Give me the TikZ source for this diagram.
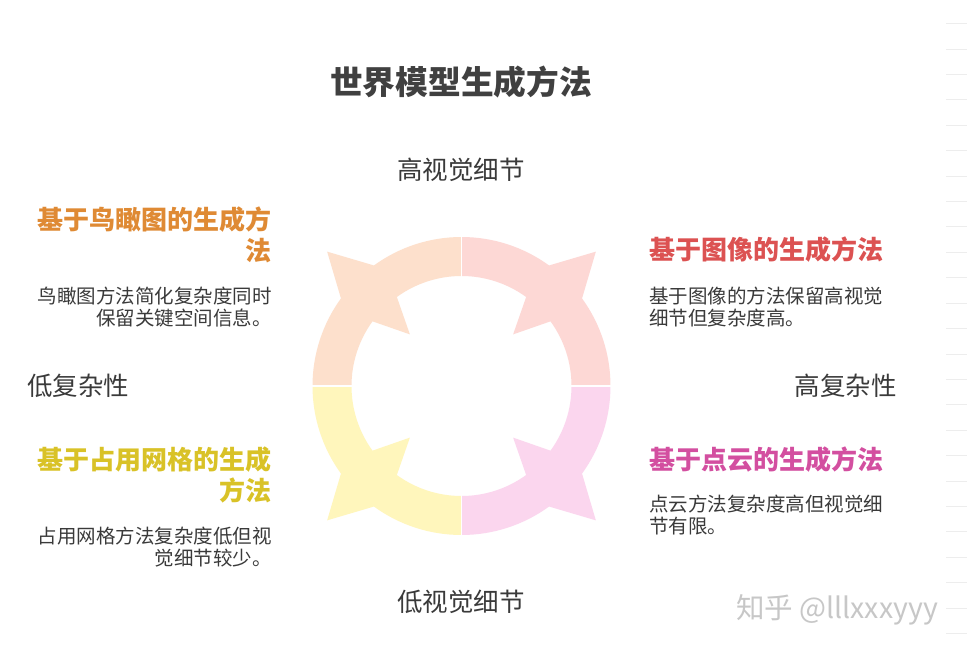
\documentclass[tikz,border=0pt]{standalone}
\usepackage{fontspec}
\setmainfont{Noto Sans CJK SC}
\usepackage{tikz}
\definecolor{birdfill}{HTML}{FDE0CC}
\definecolor{imagefill}{HTML}{FDD8D5}
\definecolor{occfill}{HTML}{FFF6BC}
\definecolor{cloudfill}{HTML}{FBD6EE}
\definecolor{birdtxt}{HTML}{DF8A34}
\definecolor{imagetxt}{HTML}{DC5252}
\definecolor{occtxt}{HTML}{D9C227}
\definecolor{cloudtxt}{HTML}{D34FA0}
\definecolor{bodytxt}{HTML}{3A3A3A}
\tikzset{
  heading/.style={inner sep=0pt, font=\bfseries\fontsize{26}{31}\selectfont},
  note/.style={inner sep=0pt, text=bodytxt, font=\fontsize{19.5}{22}\selectfont},
  axislabel/.style={inner sep=0pt, text=bodytxt, font=\fontsize{25.5}{30}\selectfont}
}
\newcommand{\wmquadrant}[2] {\fill [#2] (#1:110pt) -- (#1:149pt) arc[start angle=#1, end angle={#1+36}, radius=149pt] -- ({#1+45}:190pt) -- ({#1+54}:149pt) arc[start angle={#1+54}, end angle={#1+90}, radius=149pt] -- ({#1+90}:110pt) arc[start angle={#1+90}, end angle={#1+54}, radius=110pt] -- ({#1+45}:73pt) -- ({#1+36}:110pt) arc[start angle={#1+36}, end angle=#1, radius=110pt] -- cycle;}
\newcommand{\wmheading}[4] {\node at (#1) (#2) [heading, #3] {#4};}
\newcommand{\wmnote}[4] {\node at (#1) (#2) [note, #3] {#4};}

\begin{document}
\begin{tikzpicture}[x=1pt, y=1pt]
\useasboundingbox [fill=white] (0,0) rectangle (967,-655);

\node at (461,-82) (title) [inner sep=0pt, text=black!75, font=\bfseries\fontsize{32.7}{36}\selectfont] {世界模型生成方法};

% ring
\begin{scope}[shift={(461.5,-386)}]
\wmquadrant {0}{imagefill};
\wmquadrant {90}{birdfill};
\wmquadrant {180}{occfill};
\wmquadrant {270}{cloudfill};
\draw [white, line width=1.6pt] (0,-155) -- (0,155);
\draw [white, line width=1.6pt] (-155,0) -- (155,0);
\end{scope}

\node at (461,-170) (highvis) [axislabel] {高视觉细节};
\node at (461,-602) (lowvis) [axislabel] {低视觉细节};
\node at (27,-386) (lowcx) [axislabel, anchor=west] {低复杂性};
\node at (897,-386) (highcx) [axislabel, anchor=east] {高复杂性};

\wmheading {272,-234.5} {birdhead} {anchor=east, align=right, text=birdtxt} {基于鸟瞰图的生成方\\法};
\wmnote {272,-307} {birdnote} {anchor=east, align=right} {鸟瞰图方法简化复杂度同时\\保留关键空间信息。};
\wmheading {272,-475} {occhead} {anchor=east, align=right, text=occtxt} {基于占用网格的生成\\方法};
\wmnote {272,-547} {occnote} {anchor=east, align=right} {占用网格方法复杂度低但视\\觉细节较少。};

\wmheading {649,-250} {imagehead} {anchor=west, text=imagetxt} {基于图像的生成方法};
\wmnote {649,-307} {imagenote} {anchor=west, align=left} {基于图像的方法保留高视觉\\细节但复杂度高。};
\wmheading {649,-460} {cloudhead} {anchor=west, text=cloudtxt} {基于点云的生成方法};
\wmnote {649,-515} {cloudnote} {anchor=west, align=left} {点云方法复杂度高但视觉细\\节有限。};

%\node watermark
\node at (837,-610) (mark) [inner sep=0pt, text=black!22, font=\fontsize{28.5}{30}\selectfont] {知乎 @lllxxxyyy};
\foreach \k in {0,...,25} \draw [black!7] (946,{-23.5-25.4*\k}) -- (967,{-23.5-25.4*\k});
\end{tikzpicture}
\end{document}
